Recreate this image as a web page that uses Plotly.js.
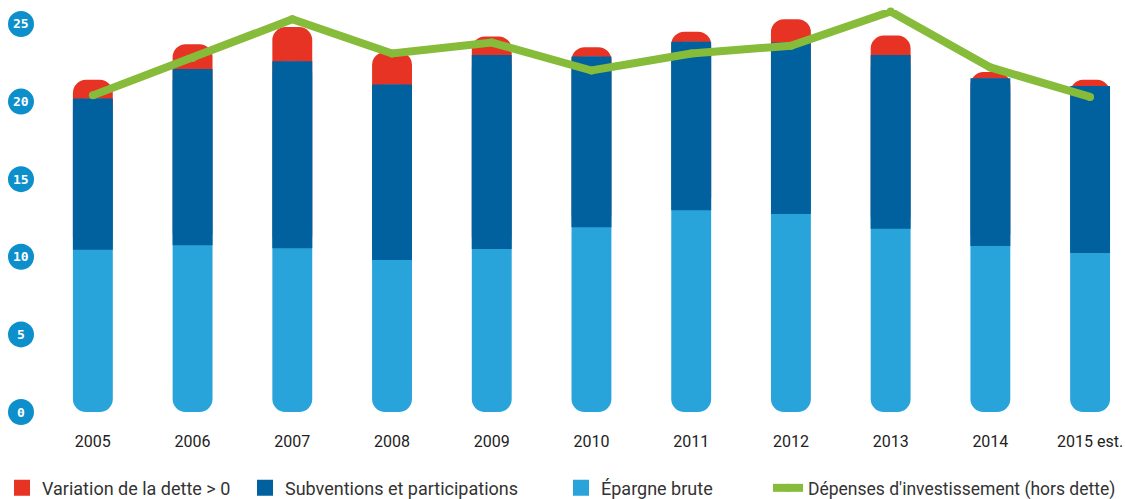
<!DOCTYPE html>
<html>
<head>
<meta charset="utf-8">
<script src="https://cdn.plot.ly/plotly-3.0.1.min.js"></script>
<style>html,body{margin:0;padding:0;background:#fff;}#chart{width:1125px;height:499px;}</style>
</head>
<body>
<div id="chart"></div>
<script>
const years = ["2005","2006","2007","2008","2009","2010","2011","2012","2013","2014","2015 est."];
const epargneBrute = [10.45, 10.75, 10.55, 9.8, 10.5, 11.9, 13.0, 12.75, 11.8, 10.7, 10.25];
const subventions = [9.75, 11.35, 12.05, 11.3, 12.5, 11.0, 10.85, 11.05, 11.2, 10.8, 10.75];
const variationDette = [1.2, 1.6, 2.2, 2.1, 1.2, 0.6, 0.65, 1.5, 1.25, 0.4, 0.4];
const depenses = [20.4, 22.8, 25.3, 23.1, 23.8, 22.0, 23.1, 23.6, 25.8, 22.2, 20.3];
const yTicks = [0, 5, 10, 15, 20, 25];
const yTickLabels = ["0", "5", "10", "15", "20", "25"];

const C_RED = "#e63323", C_DARK = "#01619e", C_LIGHT = "#29a4db", C_GREEN = "#86bc3a", C_BADGE = "#0c8fcb";
const FONT = "Roboto, sans-serif";

const darkTop = epargneBrute.map((v, i) => v + subventions[i]);
const upperPart = subventions.map((v, i) => v + variationDette[i]);

const PL = 40, PW = 1080;
const px2paper = p => (p - PL) / PW;

const traces = [
  // red band: drawn from top of light part up to the total, lower part hidden by the dark band
  {
    type: "bar", name: "Variation de la dette > 0", x: years,
    base: epargneBrute, y: upperPart,
    marker: {color: C_RED, cornerradius: 13}, width: 0.4, showlegend: false, hoverinfo: "skip"
  },
  // light band: from top of dark band down to zero (rounded bottom), upper part hidden by dark band
  {
    type: "bar", name: "Épargne brute", x: years,
    base: darkTop, y: darkTop.map(v => -v),
    marker: {color: C_LIGHT, cornerradius: 13}, width: 0.4, showlegend: false, hoverinfo: "skip"
  },
  // dark band
  {
    type: "bar", name: "Subventions et participations", x: years,
    base: epargneBrute, y: subventions,
    marker: {color: C_DARK}, width: 0.4, showlegend: false, hoverinfo: "skip"
  },
  {
    type: "scatter", mode: "lines+markers", name: "Dépenses d'investissement (hors dette)",
    x: years, y: depenses, cliponaxis: false,
    line: {color: C_GREEN, width: 8}, marker: {color: C_GREEN, size: 8},
    legend: "legend4", hoverinfo: "skip"
  },
  // legend entries for the bar series
  {type: "scatter", mode: "markers", name: "Variation de la dette > 0", x: [null], y: [null],
   marker: {color: C_RED, size: 16, symbol: "square"}, legend: "legend", hoverinfo: "skip"},
  {type: "scatter", mode: "markers", name: "Subventions et participations", x: [null], y: [null],
   marker: {color: C_DARK, size: 16, symbol: "square"}, legend: "legend2", hoverinfo: "skip"},
  {type: "scatter", mode: "markers", name: "Épargne brute", x: [null], y: [null],
   marker: {color: C_LIGHT, size: 16, symbol: "square"}, legend: "legend3", hoverinfo: "skip"}
];

const badgeX = px2paper(21);
const shapes = yTicks.map(v => ({
  type: "circle", layer: "below",
  xref: "paper", xsizemode: "pixel", xanchor: badgeX, x0: -13, x1: 13,
  yref: "y", ysizemode: "pixel", yanchor: v, y0: -13, y1: 13,
  fillcolor: C_BADGE, line: {width: 0}
}));
const annotations = yTicks.map((v, i) => ({
  xref: "paper", x: badgeX, yref: "y", y: v, text: "<b>" + yTickLabels[i] + "</b>",
  showarrow: false, xanchor: "center", yanchor: "middle",
  font: {family: "DejaVu Sans Mono, monospace", size: 13, color: "#ffffff"}
}));

const legY = -0.138;
function leg(pxLeft, size) {
  return {
    orientation: "h", x: px2paper(pxLeft), xanchor: "left", y: legY, yanchor: "middle",
    font: {family: FONT, size: size, color: "#333333"}, bgcolor: "rgba(0,0,0,0)"
  };
}

const layout = {
  width: 1125, height: 499,
  margin: {l: PL, r: 5, t: 10, b: 69, autoexpand: false},
  paper_bgcolor: "#ffffff", plot_bgcolor: "#ffffff",
  barmode: "overlay",
  showlegend: true,
  legend: leg(2, 18), legend2: leg(245, 18), legend3: leg(561, 18), legend4: leg(768, 17.5),
  xaxis: {
    type: "category", range: [-0.53, 10.3],
    showgrid: false, zeroline: false, showline: false, ticks: "",
    ticklabelstandoff: 0,
    tickfont: {family: FONT, size: 16, color: "#222222"}
  },
  yaxis: {
    range: [-1.16, 25.9], tickvals: yTicks, showticklabels: false,
    showgrid: false, zeroline: false, showline: false, ticks: ""
  },
  shapes: shapes,
  annotations: annotations
};

Plotly.newPlot("chart", traces, layout, {displayModeBar: false, staticPlot: true});
</script>
</body>
</html>
